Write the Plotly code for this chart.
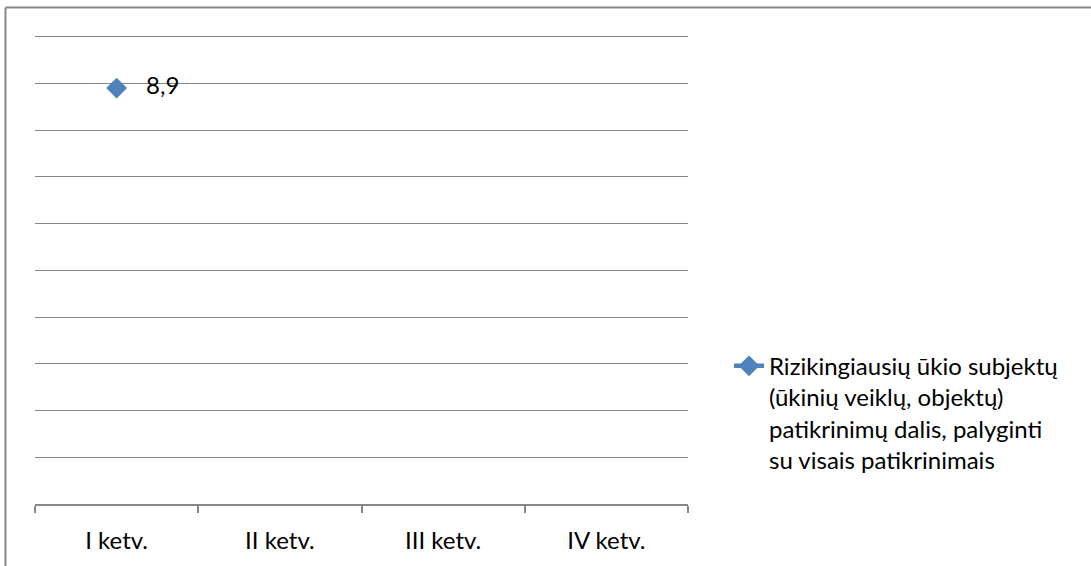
import plotly.graph_objects as go

categories = ["I ketv.", "II ketv.", "III ketv.", "IV ketv."]
values = [8.9, None, None, None]
series_name = ("Rizikingiausių ūkio subjektų<br>(ūkinių veiklų, objektų)<br>"
               "patikrinimų dalis, palyginti<br>su visais patikrinimais")

W, H = 1091, 566
L, R, T, B = 35, 403, 32, 60
pw = W - L - R
ph = H - T - B

fig = go.Figure()
fig.add_trace(go.Scatter(
    x=categories, y=values, name=series_name,
    mode="lines+markers+text",
    line=dict(color="#4F81BD", width=4.5),
    marker=dict(symbol="diamond", size=16, color="#4F81BD"),
    texttemplate="   %{y:.1f}", textposition="middle right",
    textfont=dict(family="Lato", size=24, color="#000000"),
    showlegend=True,
))

gray = "#878787"
fig.update_layout(
    width=W, height=H,
    margin=dict(l=L, r=R, t=T, b=B, pad=0),
    paper_bgcolor="white", plot_bgcolor="white",
    separators=", ",
    font=dict(family="Lato", size=24, color="#000000"),
    xaxis=dict(
        type="category", range=[-0.5, 3.5],
        showline=True, linecolor=gray, linewidth=1.5,
        ticks="outside", tickson="boundaries", ticklen=7, tickcolor=gray, tickwidth=1.5,
        showgrid=False, zeroline=False,
        tickfont=dict(family="Lato", size=24, color="#000000"),
        ticklabelstandoff=14,
        fixedrange=True,
    ),
    yaxis=dict(
        range=[0, 10.1], dtick=1, tick0=0,
        showgrid=True, gridcolor=gray, gridwidth=1.3,
        showticklabels=False, showline=False, zeroline=False, ticks="",
        fixedrange=True,
    ),
    legend=dict(
        x=(729 - L) / pw, xanchor="left",
        y=(T - 345 + ph) / ph, yanchor="top",
        valign="top",
        font=dict(family="Lato", size=24, color="#000000"),
        bgcolor="rgba(0,0,0,0)",
        tracegroupgap=0,
    ),
    shapes=[
        dict(type="line", xref="paper", yref="paper",
             x0=(5.5 - L) / pw, x1=(W + 10 - L) / pw,
             y0=(H - B - 7.5) / ph, y1=(H - B - 7.5) / ph,
             line=dict(color=gray, width=2)),
        dict(type="line", xref="paper", yref="paper",
             x0=(5.5 - L) / pw, x1=(5.5 - L) / pw,
             y0=(H - B - 7.5) / ph, y1=-(B + 10) / ph,
             line=dict(color=gray, width=2)),
    ],
)

fig.write_html("out.html", config={"displayModeBar": False},
               post_script="document.body.style.margin='0';")
